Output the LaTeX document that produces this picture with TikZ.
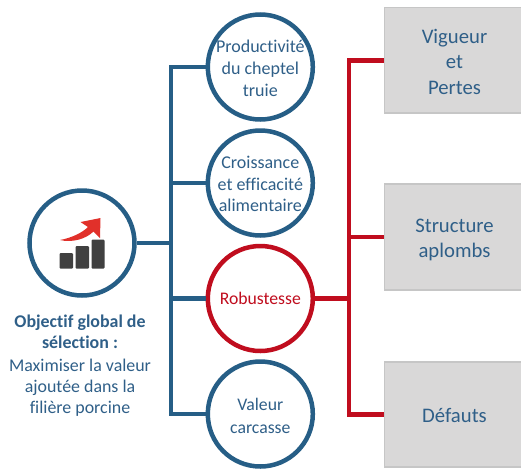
\documentclass[tikz,border=0pt]{standalone}
\usepackage{fontspec}
\setmainfont[Ligatures=NoCommon]{Carlito}
\definecolor{bluec}{HTML}{265E86}
\definecolor{bluet}{HTML}{2F5F88}
\definecolor{redc}{HTML}{C00D1E}
\definecolor{boxf}{HTML}{D9D8D8}
\definecolor{boxl}{HTML}{C6C6C6}
\definecolor{bars}{HTML}{404040}
\definecolor{arrowr}{HTML}{E1302A}
\newcommand{\zlines}[4]{\makebox[0pt]{\fontsize{#1}{#2}\selectfont\raisebox{\dimexpr-0.25em-#4pt\relax}[0pt][0pt]{\begin{tabular}{@{}c@{}}#3\end{tabular}}}}
\tikzset{
  roundb/.style={circle,draw=bluec,line width=4.5pt,minimum size=105pt,inner sep=0pt,text=bluet,fill=white},
  roundr/.style={roundb,draw=redc,text=redc},
  greybox/.style={rectangle,draw=boxl,line width=1.8pt,fill=boxf,minimum width=140pt,text=bluet,inner sep=0pt},
  busb/.style={draw=bluec,line width=4.5pt,line join=miter},
  busr/.style={draw=redc,line width=4.5pt,line join=miter}
}
\begin{document}
\begin{tikzpicture}[x=1pt,y=-1pt]
\useasboundingbox (0,0) rectangle (521,469);
\clip (0,0) rectangle (521,469);
% nodes
\node[roundb] (goal) at (82,243) {};
\node[roundb] (prod) at (260.3,67) {\zlines{18}{22}{Productivité\\du cheptel\\truie}{2.5}};
\node[roundb] (crois) at (260.3,183) {\zlines{18}{21.7}{Croissance\\et efficacité\\alimentaire}{2.5}};
\node[roundr] (rob) at (260.3,298.5) {\zlines{17.7}{20}{Robustesse}{2}};
\node[roundb] (val) at (260.3,414) {\zlines{17.7}{23}{Valeur\\carcasse}{3}};
\node[greybox,minimum height=105.5pt] (vig) at (454.5,60.3) {\zlines{20.7}{25.5}{Vigueur\\et\\Pertes}{3.5}};
\node[greybox,minimum height=105.5pt] (str) at (454.5,237) {\zlines{20.7}{25.5}{Structure\\aplombs}{3}};
\node[greybox,minimum height=105.5pt] (def) at (454.5,414.5) {\zlines{20.7}{25.5}{Défauts}{3}};
\node[text=bluet,align=center,font=\fontsize{17.9}{21}\selectfont] (txt) at (80,365.5)
  {\textbf{Objectif global de}\\\textbf{sélection :}\\[2.5pt]Maximiser la valeur\\ajoutée dans la\\filière porcine};
% bus coordinates
\coordinate (bt) at (171,67);
\coordinate (bb) at (171,414);
\coordinate (rt) at (349,60.3);
\coordinate (rb) at (349,414.5);
% blue connectors
\draw[busb] (prod.west) -- (bt) -- (bb) -- (val.west);
\draw[busb] (crois.west) -- (crois.west -| bt);
\draw[busb] (rob.west) -- (rob.west -| bt);
\draw[busb] (goal.east) -- (goal.east -| bt);
% red connectors
\draw[busr] (vig.west) -- (rt) -- (rb) -- (def.west);
\draw[busr] (str.west) -- (str.west -| rt);
\draw[busr] (rob.east) -- (rob.east -| rt);
% icon
\fill[bars,rounded corners=1pt] (59.5,253) rectangle (73,268.5);
\fill[bars,rounded corners=1pt] (75.5,246) rectangle (89,268.5);
\fill[bars,rounded corners=1pt] (91.5,239.5) rectangle (104.5,268.5);
\fill[arrowr] (60,240) .. controls (71,238) and (82,233) .. (88,227) -- (80.5,222) -- (100.5,218) -- (100,238) -- (93.5,231.5) .. controls (86,239) and (72,243) .. (60,240) -- cycle;
\end{tikzpicture}
\end{document}
